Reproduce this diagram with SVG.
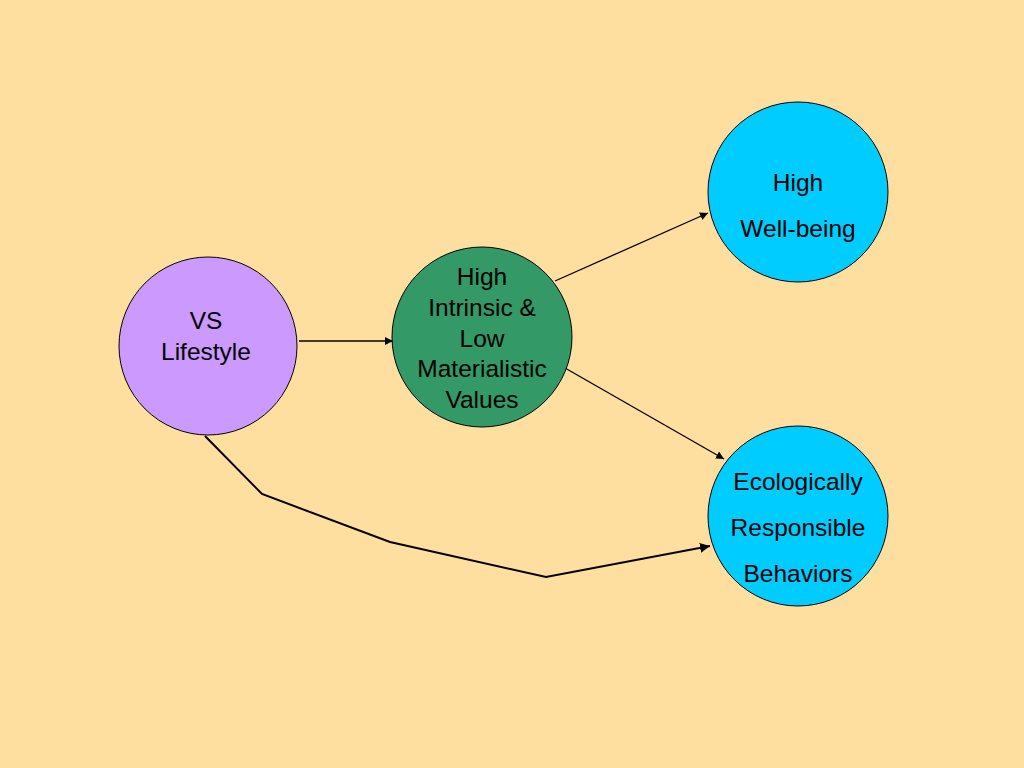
<svg xmlns="http://www.w3.org/2000/svg" width="1024" height="768" viewBox="0 0 1024 768">
<style>
.node{stroke:#000;stroke-width:1}
.lbl{font-family:"Liberation Sans",Arial,sans-serif;font-size:24.5px;fill:#000;text-anchor:middle}
.conn{fill:none;stroke:#000;stroke-width:1.3}
</style>
<defs>
<marker id="ah" viewBox="0 0 10 10" refX="10" refY="5" markerWidth="8" markerHeight="8" markerUnits="userSpaceOnUse" orient="auto"><path d="M0,0 L10,5 L0,10 z" fill="#000"/></marker>
<marker id="ah2" viewBox="0 0 10 10" refX="10" refY="5" markerWidth="10" markerHeight="10" markerUnits="userSpaceOnUse" orient="auto"><path d="M0,0 L10,5 L0,10 z" fill="#000"/></marker>
</defs>
<rect width="1024" height="768" fill="#FFDF9F"/>
<g id="connectors">
<line class="conn" x1="299" y1="341" x2="393" y2="341" marker-end="url(#ah)"/>
<line class="conn" x1="555" y1="281" x2="708" y2="213" marker-end="url(#ah)"/>
<line class="conn" x1="565" y1="368" x2="724" y2="459" marker-end="url(#ah)"/>
<polyline class="conn" style="stroke-width:2" points="205,436 262,494 390,542 546,577 710,546" marker-end="url(#ah2)"/>
</g>
<g id="vs">
<circle class="node" cx="208" cy="346" r="89" fill="#CC99FF"/>
<text class="lbl" x="206" y="329">VS</text>
<text class="lbl" x="206" y="360">Lifestyle</text>
</g>
<g id="values">
<circle class="node" cx="482" cy="337" r="90" fill="#339966"/>
<text class="lbl" x="482" y="285">High</text>
<text class="lbl" x="482" y="316">Intrinsic &amp;</text>
<text class="lbl" x="482" y="347">Low</text>
<text class="lbl" x="482" y="377">Materialistic</text>
<text class="lbl" x="482" y="408">Values</text>
</g>
<g id="wellbeing">
<circle class="node" cx="798" cy="192" r="90" fill="#00CCFF"/>
<text class="lbl" x="798" y="191">High</text>
<text class="lbl" x="798" y="237">Well-being</text>
</g>
<g id="ecological">
<circle class="node" cx="798" cy="516" r="90" fill="#00CCFF"/>
<text class="lbl" x="798" y="490">Ecologically</text>
<text class="lbl" x="798" y="536">Responsible</text>
<text class="lbl" x="798" y="582">Behaviors</text>
</g>
</svg>
